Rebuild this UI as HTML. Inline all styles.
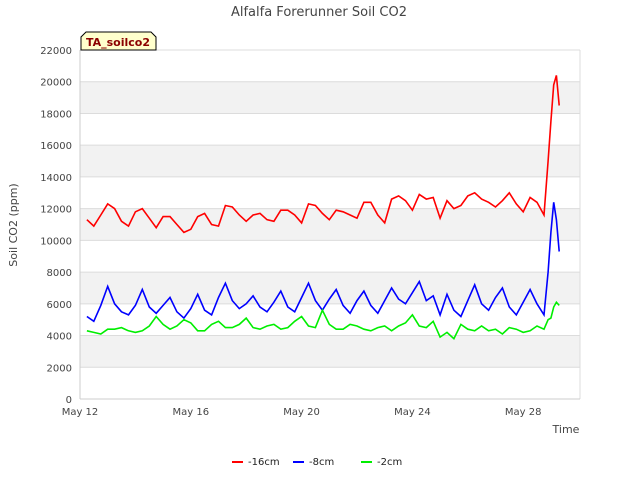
<!DOCTYPE html>
<html><head><meta charset="utf-8"><style>
body{margin:0;background:#fff;font-family:"Liberation Sans","DejaVu Sans",sans-serif}
svg text{font-family:"DejaVu Sans","Liberation Sans",sans-serif}
</style></head><body>
<svg id="c" width="640" height="480" xmlns="http://www.w3.org/2000/svg">
<text x="319" y="16" text-anchor="middle" font-size="13" fill="#444">Alfalfa Forerunner Soil CO2</text>
<g id="bands"></g><g id="grid"></g><g id="axes"></g><g id="series"></g>
<text transform="translate(17,225) rotate(-90)" text-anchor="middle" font-size="11" fill="#444">Soil CO2 (ppm)</text>
<text x="566" y="433" text-anchor="middle" font-size="11" fill="#444">Time</text>
<g>
<path d="M81,50 L81,37 L86,32 L151,32 L156,37 L156,50 Z" fill="#ffffcc" stroke="#000" stroke-width="1"/>
<text x="118" y="46" text-anchor="middle" font-size="11" font-weight="bold" fill="#8b0000">TA_soilco2</text>
</g>
<g id="legend"></g>
</svg>
<script>
const days=[];for(let d=12.25;d<=28.5001;d+=0.25)days.push(d);days.push(28.75,28.9,29.0,29.1,29.2,29.3);
const red=[11300,10900,11600,12300,12000,11200,10900,11800,12000,11400,10800,11500,11500,11000,10500,10700,11500,11700,11000,10900,12200,12100,11600,11200,11600,11700,11300,11200,11900,11900,11600,11100,12300,12200,11700,11300,11900,11800,11600,11400,12400,12400,11600,11100,12600,12800,12500,11900,12900,12600,12700,11400,12500,12000,12200,12800,13000,12600,12400,12100,12500,13000,12300,11800,12700,12400,11600,15000,17500,19800,20400,18500];
const blue=[5200,4900,5900,7100,6000,5500,5300,5900,6900,5800,5400,5900,6400,5500,5100,5700,6600,5600,5300,6400,7300,6200,5700,6000,6500,5800,5500,6100,6800,5800,5500,6400,7300,6200,5600,6300,6900,5900,5400,6200,6800,5900,5400,6200,7000,6300,6000,6700,7400,6200,6500,5300,6600,5600,5200,6200,7200,6000,5600,6400,7000,5800,5300,6100,6900,6000,5300,8000,10500,12400,11300,9300];
const green=[4300,4200,4100,4400,4400,4500,4300,4200,4300,4600,5200,4700,4400,4600,5000,4800,4300,4300,4700,4900,4500,4500,4700,5100,4500,4400,4600,4700,4400,4500,4900,5200,4600,4500,5600,4700,4400,4400,4700,4600,4400,4300,4500,4600,4300,4600,4800,5300,4600,4500,4900,3900,4200,3800,4700,4400,4300,4600,4300,4400,4100,4500,4400,4200,4300,4600,4400,5000,5100,5800,6100,5900];
const yTicks=[0,2000,4000,6000,8000,10000,12000,14000,16000,18000,20000,22000];
const xTickDays=[12,16,20,24,28];
const xTickLabels=["May 12","May 16","May 20","May 24","May 28"];
const seriesNames=["-16cm","-8cm","-2cm"];
const NS="http://www.w3.org/2000/svg";
const L=80,R=580,T=50,B=399;
const xs=d=>L+(d-12)*27.7;
const ys=v=>B-v/22000*(B-T);
function mk(tag,attrs,parent){const e=document.createElementNS(NS,tag);for(const k in attrs)e.setAttribute(k,attrs[k]);parent.appendChild(e);return e;}
const bands=document.getElementById('bands'),grid=document.getElementById('grid'),axes=document.getElementById('axes');
for(let i=0;i<yTicks.length-1;i++){if(i%2===1){const r=mk('rect',{x:L,y:ys(yTicks[i+1]),width:R-L,height:ys(yTicks[i])-ys(yTicks[i+1]),fill:'#f2f2f2'},bands);

}}
yTicks.forEach(v=>{const l=mk('line',{x1:L,x2:R,y1:ys(v),y2:ys(v),stroke:'#dcdcdc'},grid);


const t=mk('text',{x:L-8,y:ys(v)+4,'text-anchor':'end','font-size':'10',fill:'#444'},axes);t.textContent=v;

});
mk('line',{x1:R,x2:R,y1:T,y2:B,stroke:'#dcdcdc'},grid);
mk('line',{x1:L,x2:L,y1:T,y2:B,stroke:'#ccc'},axes);
mk('line',{x1:L,x2:R,y1:B,y2:B,stroke:'#ccc'},axes);
xTickDays.forEach((d,i)=>{const t=mk('text',{x:xs(d),y:B+16,'text-anchor':'middle','font-size':'10',fill:'#444'},axes);t.textContent=xTickLabels[i];

});
const cols=['#ff0000','#0000ff','#00ee00'];const data=[red,blue,green];
const sg=document.getElementById('series');
data.forEach((arr,k)=>{const p=mk('path',{d:arr.map((v,i)=>(i?'L':'M')+xs(days[i]).toFixed(1)+','+ys(v).toFixed(1)).join(''),fill:'none',stroke:cols[k],'stroke-width':'1.6'},sg);

});
const lg=document.getElementById('legend');const lx=[232,293,361];
seriesNames.forEach((n,k)=>{const g=mk('g',{},lg);


mk('line',{x1:lx[k],x2:lx[k]+11,y1:462,y2:462,stroke:cols[k],'stroke-width':'2'},g);
const t=mk('text',{x:lx[k]+16,y:465,'font-size':'10',fill:'#222'},g);t.textContent=n;});
</script>
</body></html>
